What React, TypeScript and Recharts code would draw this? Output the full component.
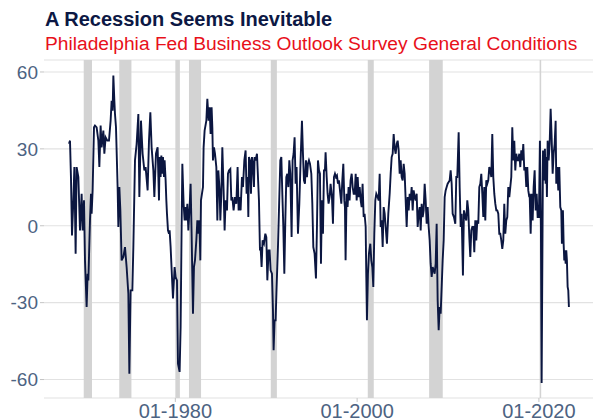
import React from 'react';
import { ComposedChart, Line, XAxis, YAxis, CartesianGrid, ReferenceArea } from 'recharts';

const title = 'A Recession Seems Inevitable';
const subtitle = 'Philadelphia Fed Business Outlook Survey General Conditions';

const yTicks = [-60, -30, 0, 30, 60];
const xTicks = [1980, 2000, 2020];

// NBER recessions (decimal years: start, end)
const recessions: [number, number][] = [
  [1969.92, 1970.83],
  [1973.83, 1975.17],
  [1980.0, 1980.5],
  [1981.5, 1982.83],
  [1990.5, 1991.17],
  [2001.17, 2001.83],
  [2007.92, 2009.42],
  [2020.08, 2020.25],
];

// General conditions index (decimal year, value)
const readings1968to1978: [number, number][] = [
  [1968.30, 32], [1968.41, 33.2], [1968.52, 18.3], [1968.63, -3.8], [1968.78, 9.9],
  [1968.89, 22.9], [1969.03, -10.9], [1969.14, 22.9], [1969.33, 19], [1969.51, -1.8],
  [1969.69, 12.5], [1969.80, -1.8], [1969.95, 9.9], [1970.06, -13.5], [1970.24, -31.7],
  [1970.35, -18.7], [1970.43, -21.3], [1970.61, 2.1], [1970.72, 12.5], [1970.79, 4.7],
  [1970.90, 13.8], [1971.05, 38.4], [1971.16, 39.1], [1971.34, 38.4], [1971.53, 33.2],
  [1971.64, 22.9], [1971.78, 39.1], [1971.89, 30.6], [1972.08, 37.1], [1972.19, 28.1],
  [1972.33, 34.5], [1972.52, 33.2], [1972.70, 33.2], [1972.88, 41], [1972.99, 48.8],
  [1973.10, 44.9], [1973.18, 58.6], [1973.29, 48.8], [1973.36, 43.6], [1973.47, 38.4],
  [1973.65, 15.1], [1973.73, -0.5], [1973.84, 15.1], [1973.95, 6], [1974.09, -13.5],
  [1974.28, -12.2], [1974.46, -8.3], [1974.64, -16.1], [1974.83, -26.5], [1974.94, -57.7],
  [1975.08, -25.2], [1975.27, -25.2], [1975.38, -8.3], [1975.56, 25.5], [1975.74, 31.9],
  [1975.93, 43.6], [1976.04, 11.2], [1976.22, 41], [1976.40, 28.1], [1976.59, 21.6],
  [1976.73, 22.9], [1976.95, 13.8], [1977.10, 33.2], [1977.25, 44.3], [1977.39, 30.6],
  [1977.58, 21.6], [1977.69, 11.2], [1977.87, 28.1], [1978.05, 30.6], [1978.20, 9.9],
];

const readings1978to1988: [number, number][] = [
  [1978.27, 26.8], [1978.38, 19], [1978.46, 27.4], [1978.57, 20.3], [1978.64, 26.8],
  [1978.75, 19], [1978.82, 25.5], [1978.93, 17.7], [1979.01, 9.9], [1979.08, 4.7],
  [1979.19, -1.8], [1979.30, -3.1], [1979.37, -1.8], [1979.48, -8.3], [1979.63, -20],
  [1979.74, -28.4], [1979.92, -16.1], [1980.03, -20], [1980.18, -21.3], [1980.29, -53.8],
  [1980.47, -57], [1980.58, -39.5], [1980.69, -0.5], [1980.77, 24.2], [1980.91, 8.6],
  [1981.02, 2.1], [1981.13, 7.3], [1981.21, 2.1], [1981.32, 8.6], [1981.43, -1.8],
  [1981.57, 7.3], [1981.68, 16.4], [1981.79, -3.1], [1981.94, -34.3], [1982.05, -16.1],
  [1982.16, -13.5], [1982.31, -5.7], [1982.42, 2.1], [1982.53, -3.1], [1982.64, 2.1],
  [1982.75, -13.5], [1982.82, 9.9], [1982.93, 12.5], [1983.04, 15.1], [1983.11, 30.6],
  [1983.22, 37.1], [1983.41, 41], [1983.52, 49.5], [1983.66, 41], [1983.77, 46.2],
  [1983.88, 35.8], [1983.99, 46.2], [1984.07, 38.4], [1984.14, 25.5], [1984.25, 30.6],
  [1984.36, 28.1], [1984.51, 22.9], [1984.62, 2.1], [1984.73, 21.6], [1984.87, 13.8],
  [1984.95, 2.1], [1985.06, 12.5], [1985.17, 30.6], [1985.31, 13.8], [1985.42, -1.8],
  [1985.53, 9.9], [1985.68, 6], [1985.79, 20.3], [1985.90, 21.6], [1986.05, 22.2],
  [1986.16, 9.9], [1986.27, 11.2], [1986.41, 6], [1986.56, 11.2], [1986.71, 8.6],
  [1986.85, 22.9], [1986.96, 6], [1987.07, 11.2], [1987.18, 6], [1987.33, 19],
  [1987.44, 15.1], [1987.59, 25.5], [1987.73, 29.4], [1987.84, 12.5], [1987.95, 19],
  [1988.03, 3.4], [1988.10, 26.8], [1988.21, 25.5], [1988.32, 12.5], [1988.43, 26.8],
  [1988.54, 24.2], [1988.65, 15.1],
];

const readings1988to1999: [number, number][] = [
  [1988.72, 26.8], [1988.83, 25.5], [1988.98, 28.1], [1989.09, 19], [1989.20, 9.9],
  [1989.31, -9.6], [1989.38, -8.3], [1989.49, -16.1], [1989.60, -5.7], [1989.75, -7],
  [1989.90, -3.1], [1990.01, -4.4], [1990.12, -21.3], [1990.26, -9.6], [1990.37, -9.6],
  [1990.48, -17.4], [1990.63, -18.7], [1990.74, -33], [1990.81, -48.6], [1990.92, -36.9],
  [1991.03, -36.9], [1991.14, -23.9], [1991.29, -8.3], [1991.40, 6], [1991.55, 25.5],
  [1991.66, 26.8], [1991.77, 12.5], [1991.88, -0.5], [1991.99, -18.7], [1992.10, 2.1],
  [1992.21, 19], [1992.32, 20.3], [1992.43, 15.1], [1992.54, 25.5], [1992.65, 20.3],
  [1992.79, -4.4], [1992.90, 25.5], [1993.01, 28.1], [1993.12, 34.5], [1993.23, 16.4],
  [1993.34, 22.9], [1993.49, -3.1], [1993.64, 8.6], [1993.78, 25.5], [1993.93, 41],
  [1994.04, 28.1], [1994.15, 17.7], [1994.26, 16.4], [1994.37, 25.5], [1994.48, 19],
  [1994.59, 24.2], [1994.70, 25.5], [1994.81, 24.2], [1994.96, 20.3], [1995.07, 8.6],
  [1995.18, -8.3], [1995.32, -10.9], [1995.47, -20.6], [1995.58, -0.5], [1995.69, 25.5],
  [1995.80, 21.6], [1995.91, 20.3], [1996.02, -14.8], [1996.13, 9.9], [1996.24, -3.1],
  [1996.35, 21.6], [1996.46, 21.6], [1996.53, 28.7], [1996.65, 19], [1996.75, 12.5],
  [1996.86, 8.6], [1996.97, 11.2], [1997.08, 16.4], [1997.23, 11.2], [1997.34, 0.8],
  [1997.45, 19], [1997.56, 20.3], [1997.67, 19], [1997.78, 19.6], [1997.89, 16.4],
  [1998.00, 17.7], [1998.15, 12.5], [1998.26, 8.6], [1998.37, 17.7], [1998.48, 24.2],
  [1998.59, 9.9], [1998.66, 7.3], [1998.73, -13.5], [1998.84, 12.5], [1998.95, 7.3],
  [1999.06, 15.1], [1999.17, 9.9], [1999.28, 17.7], [1999.40, 20.3], [1999.51, 15.1],
  [1999.62, 12.5],
];

const readings1999to2010: [number, number][] = [
  [1999.73, 12.5], [1999.84, 20.3], [1999.95, 9.9], [2000.06, 19], [2000.17, 11.2],
  [2000.28, 15.1], [2000.39, 9.9], [2000.50, 7.3], [2000.60, 16.4], [2000.72, 3.4],
  [2000.82, 4.7], [2000.94, -0.5], [2001.01, -20], [2001.08, -36.9], [2001.19, -18.7],
  [2001.30, -10.9], [2001.45, -7], [2001.56, -13.5], [2001.67, -16.1], [2001.78, -23.9],
  [2001.89, -3.1], [2002.00, 9.9], [2002.11, 12.5], [2002.26, 11.2], [2002.37, 9.9],
  [2002.48, 20.3], [2002.59, -0.5], [2002.70, 2.1], [2002.81, -8.3], [2002.92, 7.3],
  [2003.03, 4.7], [2003.14, -0.5], [2003.28, -7], [2003.43, 4.7], [2003.58, 12.5],
  [2003.69, 20.3], [2003.80, 26.8], [2003.91, 28.1], [2004.02, 35.8], [2004.12, 30.6],
  [2004.24, 28.1], [2004.35, 31.9], [2004.46, 33.2], [2004.57, 29.4], [2004.68, 20.3],
  [2004.79, 25.5], [2004.90, 19], [2005.01, 17.7], [2005.12, 24.2], [2005.23, 20.3],
  [2005.34, 9.9], [2005.45, -0.5], [2005.56, 11.2], [2005.67, 6], [2005.78, 12.5],
  [2005.89, 9.9], [2006.00, 15.1], [2006.11, 6], [2006.22, 13.8], [2006.33, 11.2],
  [2006.44, 9.9], [2006.55, 12.5], [2006.66, -0.5], [2006.77, 4.7], [2006.88, 7.3],
  [2006.99, -1.8], [2007.10, 8.6], [2007.21, 3.4], [2007.32, 6], [2007.43, 16.4],
  [2007.54, 9.9], [2007.65, 0.8], [2007.76, 7.3], [2007.87, -0.5], [2007.98, -5.7],
  [2008.09, -14.8], [2008.20, -20], [2008.31, -16.1], [2008.42, -17.4], [2008.53, -18.7],
  [2008.64, -14.8], [2008.75, 0.8], [2008.86, -29.1], [2008.97, -40.8], [2009.08, -31.7],
  [2009.19, -34.3], [2009.30, -23.9], [2009.41, -13.5], [2009.52, -5.7], [2009.63, 11.2],
  [2009.74, 13.8], [2009.85, 15.1], [2009.96, 16.4],
];

const readings2010to2019: [number, number][] = [
  [2010.18, 17.7], [2010.29, 21.6], [2010.40, 16.4], [2010.51, 4.7], [2010.65, 3.4],
  [2010.80, 0.8], [2010.91, 19], [2011.02, 19], [2011.17, 36.5], [2011.28, 15.1],
  [2011.39, -0.5], [2011.50, 4.7], [2011.64, -19.4], [2011.75, 6], [2011.90, 3.4],
  [2012.01, 2.1], [2012.12, 9.9], [2012.23, 6], [2012.34, -4.4], [2012.45, -12.2],
  [2012.56, -1.8], [2012.67, -0.5], [2012.78, -0.5], [2012.89, -10.3], [2013.00, 2.1],
  [2013.11, -5.7], [2013.22, 2.1], [2013.33, 0.8], [2013.44, 15.1], [2013.55, 16.4],
  [2013.66, 20.3], [2013.77, 12.5], [2013.88, 3.4], [2013.99, 15.1], [2014.10, 2.1],
  [2014.21, 17.7], [2014.32, 16.4], [2014.43, 17.7], [2014.54, 22.9], [2014.65, 21.6],
  [2014.76, 19], [2014.87, 35.8], [2014.98, 19], [2015.09, 12.5], [2015.20, 8.6],
  [2015.31, 6], [2015.42, 6], [2015.53, 4.7], [2015.64, -3.1], [2015.75, -3.1],
  [2015.86, -5.7], [2015.97, -9], [2016.08, -5.7], [2016.19, 8.6], [2016.30, -3.1],
  [2016.41, 2.1], [2016.52, 3.4], [2016.63, 15.1], [2016.74, 11.2], [2016.85, 15.1],
  [2016.96, 19], [2017.07, 38.4], [2017.18, 25.5], [2017.29, 33.2], [2017.40, 21.6],
  [2017.51, 28.1], [2017.62, 25.5], [2017.73, 25.5], [2017.84, 28.1], [2017.95, 22.9],
  [2018.06, 29.4], [2018.17, 25.5], [2018.28, 31.9], [2018.39, 21.6], [2018.50, 22.9],
  [2018.61, 15.1], [2018.72, 22.9], [2018.83, 13.8], [2018.94, 11.2], [2018.98, 12.5],
];

const readings2019to2023: [number, number][] = [
  [2019.09, -3.1], [2019.20, 12.5], [2019.31, 2.1], [2019.42, 15.1], [2019.53, 21.6],
  [2019.64, 6], [2019.75, 12.5], [2019.86, 3.4], [2020.00, 3.4], [2020.11, 33.2],
  [2020.22, -0.5], [2020.30, -61.3], [2020.45, 29.4], [2020.59, 17.7], [2020.66, 30],
  [2020.74, 16.4], [2020.81, 26.8], [2020.88, 11.2], [2020.96, 33.2], [2021.07, 25.5],
  [2021.18, 31.9], [2021.29, 45.6], [2021.40, 34.5], [2021.51, 20.3], [2021.62, 28.1],
  [2021.73, 31.9], [2021.84, 41], [2021.91, 16.4], [2022.02, 22.9], [2022.13, 13.8],
  [2022.24, 22.9], [2022.35, 7.3], [2022.46, 6], [2022.53, -7], [2022.64, 6],
  [2022.72, -7], [2022.79, -13.5], [2022.86, -9.6], [2022.94, -14.8], [2023.01, -9.6],
  [2023.08, -13.5], [2023.16, -23.9], [2023.23, -25.2], [2023.30, -31.7],
];

const data = [
  ...readings1968to1978,
  ...readings1978to1988,
  ...readings1988to1999,
  ...readings1999to2010,
  ...readings2010to2019,
  ...readings2019to2023,
].map(([t, v]) => ({ t, v }));

const FONT = '"Liberation Sans", Arial, Helvetica, sans-serif';
const LABEL = '#4d6382';

export default function App() {
  return (
    <div style={{ position: 'absolute', left: 0, top: 0, width: 597, height: 420, background: '#ffffff', fontFamily: FONT }}>
      <div style={{ position: 'absolute', left: 0, top: 0 }}>
        <ComposedChart
          width={597}
          height={420}
          data={data}
          margin={{ top: 60, right: 4, bottom: 0, left: 0 }}
          style={{ fontFamily: FONT }}
        >
          <CartesianGrid vertical={false} stroke="#e2e2e2" strokeWidth={1.1} />
          <XAxis
            dataKey="t"
            type="number"
            domain={[1965.55, 2025.95]}
            ticks={xTicks}
            tickFormatter={(y: number) => `01-${y}`}
            allowDataOverflow
            axisLine={false}
            tickLine={{ stroke: '#c4c4c4' }}
            tickSize={4}
            tickMargin={1.8}
            height={22}
            tick={{ fill: LABEL, fontSize: 20, fontFamily: FONT }}
          />
          <YAxis
            type="number"
            domain={[-67.2, 64.67]}
            ticks={yTicks}
            allowDataOverflow
            axisLine={false}
            tickLine={{ stroke: '#c4c4c4' }}
            tickSize={4}
            tickMargin={2}
            width={44}
            tick={{ fill: LABEL, fontSize: 19, fontFamily: FONT }}
          />
          {recessions.map(([a, b]) => (
            <ReferenceArea key={a} x1={a} x2={b} fill="#d3d3d3" fillOpacity={1} stroke="none" ifOverflow="hidden" />
          ))}
          <Line
            dataKey="v"
            type="linear"
            stroke="#0b1640"
            strokeWidth={1.9}
            dot={false}
            activeDot={false}
            isAnimationActive={false}
          />
        </ComposedChart>
      </div>
      <svg width={597} height={58} style={{ position: 'absolute', left: 0, top: 0 }}>
        <text x={45} y={26} fontSize={20} fontWeight="bold" fill="#0c1844" fontFamily={FONT}>{title}</text>
        <text x={45} y={50} fontSize={19.2} fill="#e8101a" fontFamily={FONT}>{subtitle}</text>
      </svg>
    </div>
  );
}
